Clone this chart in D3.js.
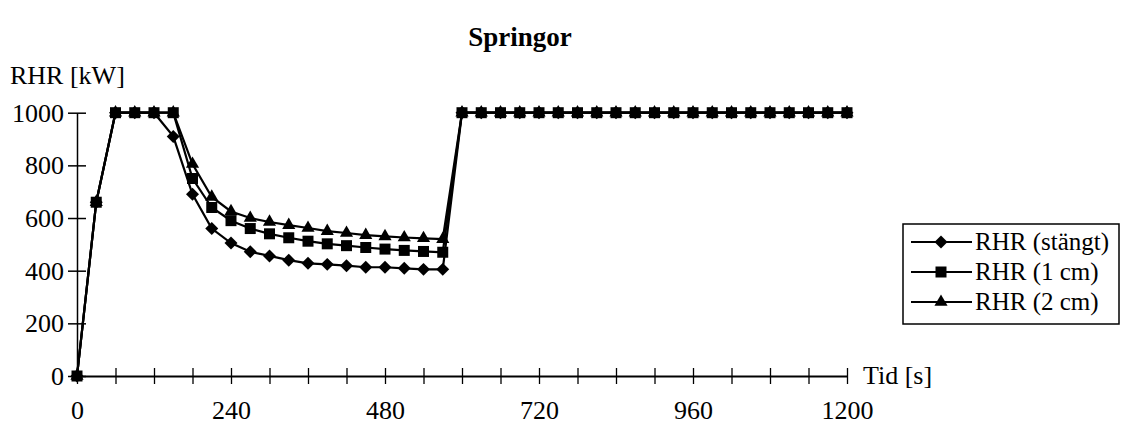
<!DOCTYPE html>
<html>
<head>
<meta charset="utf-8">
<script src="https://cdn.jsdelivr.net/npm/d3@7"></script>
<style>
  body { margin: 0; background: #fff; }
  svg text { font-family: "Liberation Serif", "Times New Roman", Times, "DejaVu Serif", serif; fill: #000; }
</style>
</head>
<body>
<svg id="chart" width="1121" height="425"></svg>
<script>
const time = [0, 30, 60, 90, 120, 150, 180, 210, 240, 270, 300, 330, 360, 390, 420, 450, 480, 510, 540, 570,
  600, 630, 660, 690, 720, 750, 780, 810, 840, 870, 900, 930, 960, 990, 1020, 1050, 1080, 1110, 1140, 1170, 1200];

const stangt = [0, 660, 1000, 1000, 1000, 910, 690, 560, 505, 472, 456, 440, 428, 424, 419, 413, 413, 409, 405, 405,
  1000, 1000, 1000, 1000, 1000, 1000, 1000, 1000, 1000, 1000, 1000, 1000, 1000, 1000, 1000, 1000, 1000, 1000, 1000, 1000, 1000];
const cm1 = [0, 660, 1000, 1000, 1000, 1000, 750, 640, 590, 560, 540, 525, 512, 502, 495, 488, 482, 477, 473, 470,
  1000, 1000, 1000, 1000, 1000, 1000, 1000, 1000, 1000, 1000, 1000, 1000, 1000, 1000, 1000, 1000, 1000, 1000, 1000, 1000, 1000];
const cm2 = [0, 660, 1000, 1000, 1000, 1000, 805, 680, 625, 600, 585, 573, 562, 550, 543, 535, 530, 526, 523, 520,
  1000, 1000, 1000, 1000, 1000, 1000, 1000, 1000, 1000, 1000, 1000, 1000, 1000, 1000, 1000, 1000, 1000, 1000, 1000, 1000, 1000];

const seriesNames = ["RHR (stängt)", "RHR (1 cm)", "RHR (2 cm)"];
const xTicks = [0, 60, 120, 180, 240, 300, 360, 420, 480, 540, 600, 660, 720, 780, 840, 900, 960, 1020, 1080, 1140, 1200];
const xLabels = [0, 240, 480, 720, 960, 1200];
const yTicks = [0, 200, 400, 600, 800, 1000];

const svg = d3.select("#chart");

const x = d3.scaleLinear().domain([0, 1200]).range([77, 847]);
const y = d3.scaleLinear().domain([0, 1000]).range([376, 112.7]);

// diamond like the Excel marker (square rotated 45deg)
const diamond = {
  draw(ctx, size) {
    const r = Math.sqrt(size / 2);
    ctx.moveTo(0, -r); ctx.lineTo(r, 0); ctx.lineTo(0, r); ctx.lineTo(-r, 0); ctx.closePath();
  }
};
const shapes = [d3.symbol(diamond, 84), d3.symbol(d3.symbolSquare, 121), d3.symbol(d3.symbolTriangle, 75)];

// Axes
const xAxis = d3.axisBottom(x)
  .tickValues(xTicks)
  .tickSizeInner(8).tickSizeOuter(0)
  .tickPadding(17)
  .tickFormat(d => xLabels.includes(d) ? d : "");
const gx = svg.append("g").attr("transform", `translate(0,${y(0)})`).call(xAxis);
gx.attr("font-family", null);
gx.select(".domain").attr("stroke-width", 2);
gx.selectAll(".tick line").attr("y1", -8).attr("stroke-width", 1.3);
gx.selectAll("text").attr("font-size", 26);

const yAxis = d3.axisLeft(y)
  .tickValues(yTicks)
  .tickSizeInner(9).tickSizeOuter(0)
  .tickPadding(4)
  .tickFormat(d3.format("d"));
const gy = svg.append("g").attr("transform", `translate(${x(0)},0)`).call(yAxis);
gy.attr("font-family", null);
gy.select(".domain").attr("stroke-width", 1.5);
gy.selectAll(".tick line").attr("x1", 9).attr("stroke-width", 1.5);
gy.selectAll("text").attr("font-size", 26);

// Series
const all = [stangt, cm1, cm2];
const line = d3.line().x((d, i) => x(time[i])).y(d => y(d));

all.forEach((vals, k) => {
  const g = svg.append("g");
  g.append("path")
    .attr("d", line(vals))
    .attr("fill", "none")
    .attr("stroke", "#000")
    .attr("stroke-width", 2.2);
  g.selectAll("path.m")
    .data(vals)
    .enter()
    .append("path")
    .attr("class", "m")
    .attr("d", shapes[k])
    .attr("transform", (d, i) => `translate(${x(time[i])},${y(d)})`)
    .attr("fill", "#000");
});

// Titles
svg.append("text")
  .attr("x", 520).attr("y", 46)
  .attr("text-anchor", "middle")
  .attr("font-size", 27).attr("font-weight", "bold")
  .text("Springor");

svg.append("text")
  .attr("x", 10).attr("y", 84)
  .attr("font-size", 26)
  .text("RHR [kW]");

svg.append("text")
  .attr("x", 863).attr("y", 384)
  .attr("font-size", 26)
  .text("Tid [s]");

// Legend
const legend = svg.append("g");
legend.append("rect")
  .attr("x", 903).attr("y", 224)
  .attr("width", 216).attr("height", 100)
  .attr("fill", "#fff").attr("stroke", "#000").attr("stroke-width", 1.5);

seriesNames.forEach((name, k) => {
  const ly = 242 + k * 30;
  legend.append("line")
    .attr("x1", 911).attr("x2", 972)
    .attr("y1", ly).attr("y2", ly)
    .attr("stroke", "#000").attr("stroke-width", 2);
  legend.append("path")
    .attr("d", shapes[k])
    .attr("transform", `translate(941,${ly})`)
    .attr("fill", "#000");
  legend.append("text")
    .attr("x", 975).attr("y", ly)
    .attr("dy", "0.33em")
    .attr("font-size", 25)
    .text(name);
});
</script>
</body>
</html>
